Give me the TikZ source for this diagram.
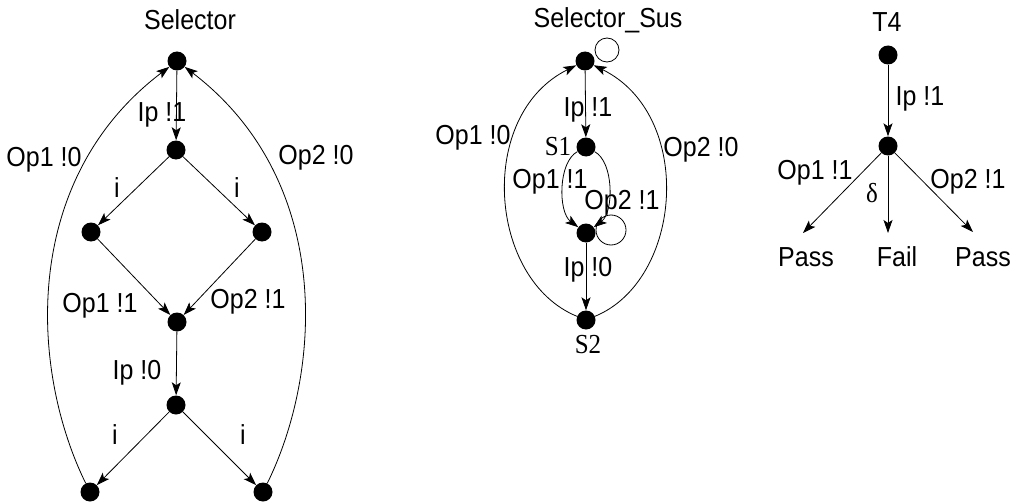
\documentclass[tikz,border=0pt]{standalone}
\usepackage{graphicx}
\usepackage{fontspec}
\setmainfont{Liberation Sans}
\newfontfamily\serifface{Liberation Serif}
\usetikzlibrary{arrows.meta}
% labels are set in a slightly tall face
\newcommand{\tall}[1]{\scalebox{1}[1.1]{#1}}
\begin{document}
\begin{tikzpicture}[x=1pt,y=-1pt,
  state/.style={circle,fill=black,inner sep=0pt,minimum size=19pt},
  lbl/.style={inner sep=0pt,font=\fontsize{25}{29}\selectfont},
  slbl/.style={inner sep=0pt,font=\serifface\fontsize{25}{29}\selectfont},
  edge/.style={line width=0.8pt,-{Stealth[length=13pt,width=9pt,inset=3pt]}},
  plain/.style={line width=0.8pt}]
\useasboundingbox (0,0) rectangle (1015,503);

% ---------- Selector ----------
\node[lbl] (tSel) at (190,20) {\tall{Selector}};
\node[state] (a) at (177,61) {};
\node[state] (b) at (176,150) {};
\node[state] (c) at (91,232) {};
\node[state] (d) at (262,232) {};
\node[state] (e) at (177,322) {};
\node[state] (f) at (176,405) {};
\node[state] (g) at (90,492) {};
\node[state] (h) at (263,492) {};

\draw[edge] (a) -- (b);
\draw[edge] (b) -- (c);
\draw[edge] (b) -- (d);
\draw[edge] (c) -- (e);
\draw[edge] (d) -- (e);
\draw[edge] (e) -- (f);
\draw[edge] (f) -- (g);
\draw[edge] (f) -- (h);
\draw[edge] (g) .. controls (30,370) and (20,180) .. (a);
\draw[edge] (h) .. controls (323,370) and (333,180) .. (a);

\node[lbl] at (162,115) {\tall{Ip !1}};
\node[lbl] at (44,160) {\tall{Op1 !0}};
\node[lbl] at (316,158) {\tall{Op2 !0}};
\node[lbl] at (117,188) {\tall{i}};
\node[lbl] at (237,188) {\tall{i}};
\node[lbl] at (100,306) {\tall{Op1 !1}};
\node[lbl] at (248,302) {\tall{Op2 !1}};
\node[lbl] at (137,373) {\tall{Ip !0}};
\node[lbl] at (115,435) {\tall{i}};
\node[lbl] at (243,435) {\tall{i}};

% ---------- Selector_Sus ----------
\node[lbl] (tSus) at (608,20) {\tall{Selector\_Sus}};
\node[state] (t) at (585,61) {};
\node[state] (s1) at (586,147) {};
\node[state] (m) at (586,233) {};
\node[state] (s2) at (586,320) {};
\node[slbl] at (558,147) {\tall{S1}};
\node[slbl] at (588,345) {\tall{S2}};

\draw[plain] ([shift={(22,-11)}]t.center) circle[radius=12pt];
\draw[plain] ([shift={(25,-3)}]m.center) circle[radius=15pt];

\draw[edge] (t) -- (s1);
\draw[edge] (m) -- (s2);
\draw[edge] (s1) .. controls (558,162) and (558,212) .. (m);
\draw[edge] (s1) .. controls (614,162) and (614,212) .. (m);
\draw[edge] (s2) .. controls (488,280) and (476,115) .. (t);
\draw[edge] (s2) .. controls (683,280) and (695,115) .. (t);

\node[lbl] at (588,110) {\tall{Ip !1}};
\node[lbl] at (473,138) {\tall{Op1 !0}};
\node[lbl] at (701,150) {\tall{Op2 !0}};
\node[lbl] at (550,182) {\tall{Op1 !1}};
\node[lbl] at (622,203) {\tall{Op2 !1}};
\node[lbl] at (588,270) {\tall{Ip !0}};

% ---------- T4 ----------
\node[lbl] (tT4) at (887,22) {\tall{T4}};
\node[state] (u) at (888,55) {};
\node[state] (v) at (888,146) {};
\coordinate (pl) at (803,233);
\coordinate (fl) at (888,233);
\coordinate (pr) at (973,232);
\draw[edge] (u) -- (v);
\draw[edge] (v) -- (pl);
\draw[edge] (v) -- (fl);
\draw[edge] (v) -- (pr);
\node[lbl] at (920,99) {\tall{Ip !1}};
\node[lbl] at (815,173) {\tall{Op1 !1}};
\node[slbl] at (872,193) {\tall{δ}};
\node[lbl] at (968,182) {\tall{Op2 !1}};
\node[lbl] at (806,257) {\tall{Pass}};
\node[lbl] at (897,257) {\tall{Fail}};
\node[lbl] at (983,257) {\tall{Pass}};
\end{tikzpicture}
\end{document}
